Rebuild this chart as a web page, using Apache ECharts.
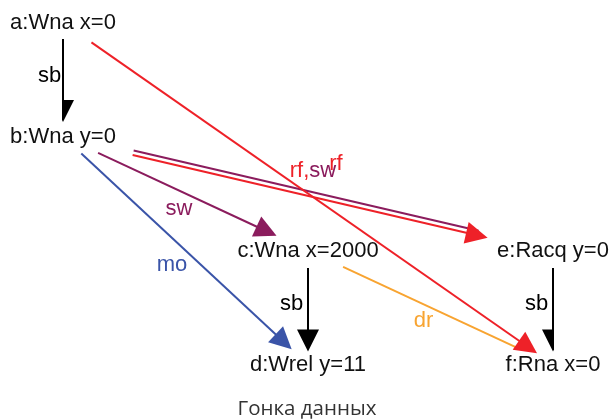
<!DOCTYPE html>
<html>
<head>
<meta charset="utf-8">
<script src="https://cdn.jsdelivr.net/npm/echarts@6/dist/echarts.min.js"></script>
<style>
  html, body { margin: 0; padding: 0; background: #fff; }
  #chart { width: 614px; height: 419px; }
</style>
</head>
<body>
<div id="chart"></div>
<script>
// nodes of the race graph: label, column, row
const nodeNames = ['a:Wna x=0', 'b:Wna y=0', 'c:Wna x=2000', 'd:Wrel y=11', 'e:Racq y=0', 'f:Rna x=0'];
const nodeCol = [0, 0, 1, 1, 2, 2];
const nodeRow = [0, 1, 2, 3, 2, 3];

// edges (node indexes) and their relation kind
const edgeFrom = [0, 0, 1, 1, 1, 1, 2, 2, 4];
const edgeTo   = [1, 5, 2, 3, 4, 4, 3, 5, 5];
const edgeKind = ['sb', 'rf', 'sw', 'mo', 'sw', 'rf', 'sb', 'dr', 'sb'];

// edge labels and the edge each belongs to
const labelText = ['sb', 'rf', 'sw', 'mo', 'rf,sw', 'sb', 'dr', 'sb'];
const labelEdge = [0, 1, 2, 3, 5, 6, 7, 8];

// --- styling ---
const kindColor = { sb: '#000000', rf: '#ee2128', sw: '#8b1c5d', mo: '#3a54a8', dr: '#f8a431' };
const edgeArrow = [1, 1, 1, 1, 0, 1, 1, 0, 1];
// gap in px between node centre and line start / arrow tip (or line end)
const edgeGap = [[16.5, 14.5], [34.7, 19.5], [38.7, 34.7], [25, 22.3], [72, 77], [72, 66.6], [17.5, 13], [38.7, 37], [17.5, 13]];
// sideways shift in px, keeps the doubled b->e pair apart
const edgeShift = [0, 0, 0, 0, 2.3, -2.3, 0, 0, 0];
const labelOffset = [[-13.5, -3.9], [28, -30], [-6.5, 15.8], [-13.5, 14.5], [5, -23], [-16.5, -3.2], [-7, 13.1], [-16.5, -3.2]];
const arrowSize = [16, 22];
const textFont = '"Liberation Sans", Arial, Helvetica, sans-serif';
const textSize = 22;

const chart = echarts.init(document.getElementById('chart'));
chart.setOption({
  animation: false,
  title: {
    text: 'Гонка данных',
    left: 'center',
    top: 394,
    textStyle: { fontFamily: '"Open Sans", "Noto Sans", sans-serif', fontSize: 20.5, fontWeight: 'normal', color: '#333' }
  },
  grid: { left: 63, right: 61, top: 22.5, bottom: 54.5 },
  xAxis: { type: 'value', min: 0, max: 2, show: false },
  yAxis: { type: 'value', min: 0, max: 3, inverse: true, show: false },
  series: []
});

const toPx = i => chart.convertToPixel({ gridIndex: 0 }, [nodeCol[i], nodeRow[i]]);
const toData = p => chart.convertFromPixel({ gridIndex: 0 }, p);

function edgeItem(k) {
  const p1 = toPx(edgeFrom[k]), p2 = toPx(edgeTo[k]);
  const dx = p2[0] - p1[0], dy = p2[1] - p1[1];
  const len = Math.hypot(dx, dy);
  const ux = dx / len, uy = dy / len;
  const nx = uy, ny = -ux;
  const s = edgeShift[k];
  const g0 = edgeGap[k][0];
  const g1 = edgeGap[k][1] + (edgeArrow[k] ? arrowSize[1] / 2 : 0);
  const a = [p1[0] + ux * g0 + nx * s, p1[1] + uy * g0 + ny * s];
  const b = [p2[0] - ux * g1 + nx * s, p2[1] - uy * g1 + ny * s];
  return { coords: [toData(a), toData(b)], lineStyle: { color: kindColor[edgeKind[k]] } };
}

const plainEdges = [], arrowEdges = [];
edgeFrom.forEach((_, k) => (edgeArrow[k] ? arrowEdges : plainEdges).push(edgeItem(k)));

const nodeData = nodeNames.map((n, i) => ({ name: n, value: [nodeCol[i], nodeRow[i]] }));

const edgeLabelData = labelText.map((t, j) => {
  const k = labelEdge[j];
  const f = edgeFrom[k], to = edgeTo[k];
  const item = {
    value: [(nodeCol[f] + nodeCol[to]) / 2, (nodeRow[f] + nodeRow[to]) / 2],
    label: { offset: labelOffset[j], color: kindColor[edgeKind[k]], formatter: t }
  };
  if (t === 'rf,sw') item.label.formatter = '{r|rf,}{p|sw}';
  return item;
});

chart.setOption({
  series: [
    {
      type: 'lines',
      coordinateSystem: 'cartesian2d',
      symbol: 'none',
      lineStyle: { width: 2, opacity: 1 },
      data: plainEdges,
      z: 2
    },
    {
      type: 'lines',
      coordinateSystem: 'cartesian2d',
      symbol: ['none', 'triangle'],
      symbolSize: arrowSize,
      lineStyle: { width: 2, opacity: 1 },
      data: arrowEdges,
      z: 3
    },
    {
      type: 'scatter',
      symbolSize: 0,
      silent: true,
      itemStyle: { opacity: 1 },
      data: nodeData,
      label: {
        show: true,
        position: 'inside',
        formatter: p => p.name,
        color: '#111',
        fontFamily: textFont,
        fontSize: textSize
      },
      z: 4
    },
    {
      type: 'scatter',
      symbolSize: 0,
      silent: true,
      itemStyle: { opacity: 1 },
      data: edgeLabelData,
      label: {
        show: true,
        position: 'inside',
        fontFamily: textFont,
        fontSize: textSize,
        rich: {
          r: { color: kindColor.rf, fontFamily: textFont, fontSize: textSize },
          p: { color: kindColor.sw, fontFamily: textFont, fontSize: textSize }
        }
      },
      z: 5
    }
  ]
});
</script>
</body>
</html>
